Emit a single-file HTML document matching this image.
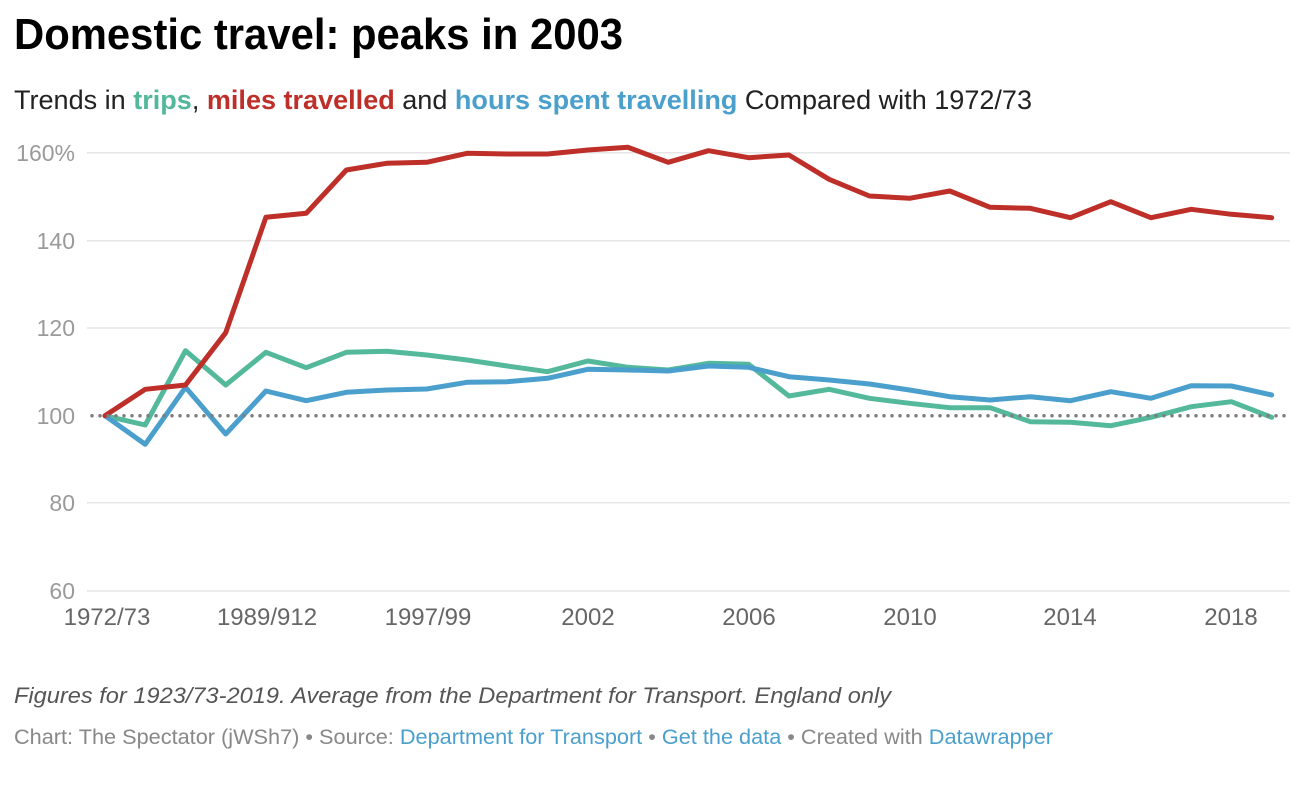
<!DOCTYPE html>
<html>
<head>
<meta charset="utf-8">
<style>
  html, body { margin: 0; padding: 0; background: #ffffff; }
  body { width: 1310px; height: 794px; overflow: hidden; }
  svg { display: block; font-family: "Liberation Sans", Arial, sans-serif; }
</style>
</head>
<body>
<svg width="1310" height="794" viewBox="0 0 1310 794" xmlns="http://www.w3.org/2000/svg">
  <rect width="1310" height="794" fill="#ffffff"/>

  <!-- Title -->
  <text x="14" y="49" font-size="44" font-weight="bold" fill="#000" textLength="609" lengthAdjust="spacingAndGlyphs">Domestic travel: peaks in 2003</text>

  <!-- Subtitle -->
  <text x="14" y="109" font-size="27" fill="#222" textLength="1018" lengthAdjust="spacingAndGlyphs">Trends in <tspan font-weight="bold" fill="#52b89a">trips</tspan>, <tspan font-weight="bold" fill="#bd2f28">miles travelled</tspan> and <tspan font-weight="bold" fill="#4a9fcd">hours spent travelling</tspan> Compared with 1972/73</text>

  <!-- Gridlines -->
  <g stroke="#e6e6e6" stroke-width="1.5">
    <line x1="87" y1="152.7" x2="1290" y2="152.7"/>
    <line x1="87" y1="240.7" x2="1290" y2="240.7"/>
    <line x1="87" y1="328" x2="1290" y2="328"/>
    <line x1="87" y1="502.7" x2="1290" y2="502.7"/>
    <line x1="87" y1="591" x2="1290" y2="591"/>
  </g>

  <!-- Y labels -->
  <g font-size="23" fill="#9a9a9a" text-anchor="end">
    <text x="75" y="161">160%</text>
    <text x="75" y="249">140</text>
    <text x="75" y="336">120</text>
    <text x="75" y="424">100</text>
    <text x="75" y="511">80</text>
    <text x="75" y="599">60</text>
  </g>

  <!-- X labels -->
  <g font-size="24" fill="#666" text-anchor="middle">
    <text x="107" y="625">1972/73</text>
    <text x="267" y="625">1989/912</text>
    <text x="428" y="625">1997/99</text>
    <text x="588" y="625">2002</text>
    <text x="749" y="625">2006</text>
    <text x="910" y="625">2010</text>
    <text x="1070" y="625">2014</text>
    <text x="1231" y="625">2018</text>
  </g>

  <!-- Series -->
  <g fill="none" stroke-width="5" stroke-linejoin="round" stroke-linecap="round">
    <!-- trips (green) -->
    <polyline stroke="#54b99b" points="105,415.7 145.2,425 185.5,350.7 225.7,385 265.9,352.3 306.2,367.7 346.4,352.3 386.6,351.3 426.8,355 467.1,360 507.3,366 547.5,371.7 587.8,361 628,367.3 668.2,370 708.5,363.3 748.7,364.3 788.9,396 829.1,389.3 869.4,398.3 909.6,403.3 949.8,407.7 990.1,407.7 1030.3,421.7 1070.5,422.3 1110.8,425.7 1151,417.3 1191.2,406.7 1231.4,401.7 1271.7,417.3"/>
    <!-- hours (blue) -->
    <polyline stroke="#4a9fcd" points="105,415.7 145.2,444.3 185.5,387.3 225.7,434 265.9,391 306.2,400.7 346.4,392.3 386.6,390 426.8,389 467.1,382.3 507.3,381.7 547.5,378.3 587.8,369.3 628,370 668.2,371 708.5,366 748.7,367.3 788.9,376.7 829.1,380 869.4,384 909.6,390 949.8,396.7 990.1,400 1030.3,396.7 1070.5,400.7 1110.8,391.7 1151,398.3 1191.2,385.7 1231.4,386 1271.7,395"/>
    <!-- miles (red) -->
    <polyline stroke="#bd2f28" points="105,415.7 145.2,389.3 185.5,385 225.7,332.7 265.9,217.3 306.2,213.3 346.4,170 386.6,163.3 426.8,162.3 467.1,153.3 507.3,154 547.5,154 587.8,150 628,147.3 668.2,162.3 708.5,150.7 748.7,157.7 788.9,155 829.1,179.3 869.4,196 909.6,198.3 949.8,191 990.1,207.3 1030.3,208.3 1070.5,217.7 1110.8,201.7 1151,217.7 1191.2,209.3 1231.4,214.3 1271.7,217.7"/>
  </g>

  <!-- Dotted reference line at 100 -->
  <line x1="92" y1="415.7" x2="1290" y2="415.7" stroke="#7d7d7d" stroke-width="3.5" stroke-linecap="round" stroke-dasharray="0 8"/>

  <!-- Notes -->
  <text x="14" y="703" font-size="22" font-style="italic" fill="#555" textLength="877" lengthAdjust="spacingAndGlyphs">Figures for 1923/73-2019. Average from the Department for Transport. England only</text>

  <text x="14" y="744" font-size="21.5" fill="#888" textLength="1039" lengthAdjust="spacingAndGlyphs">Chart: The Spectator (jWSh7) • Source: <tspan fill="#4a9fcd">Department for Transport</tspan> • <tspan fill="#4a9fcd">Get the data</tspan> • Created with <tspan fill="#4a9fcd">Datawrapper</tspan></text>
</svg>
</body>
</html>
